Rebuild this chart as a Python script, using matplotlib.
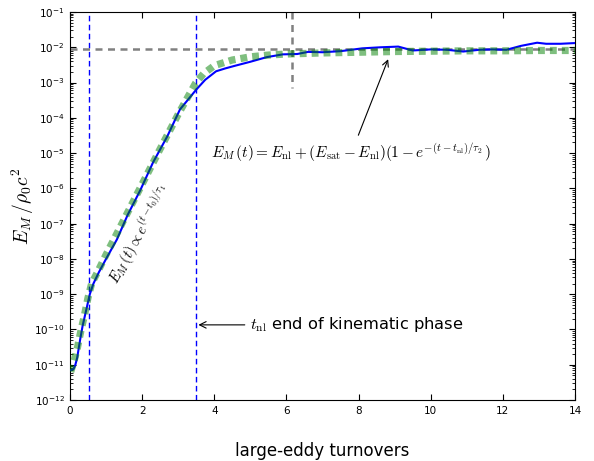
import numpy as np
import matplotlib
matplotlib.use("Agg")
from matplotlib import pyplot as plt
from matplotlib.ticker import LogLocator, NullFormatter

# simulation: magnetic energy vs time (log10 of E_M / rho0 c^2)
t_sim = [0.03, 0.1, 0.15, 0.2, 0.28, 0.35, 0.45, 0.55, 0.65, 0.8, 1.0, 1.3,
         1.6, 1.95, 2.3, 2.7, 3.05, 3.3, 3.5, 3.75, 4.05, 4.3, 4.55, 5.0,
         5.45, 5.9, 6.3, 6.6, 7.0, 7.5, 8.1, 8.6, 9.1, 9.5, 10.0, 10.45,
         10.9, 11.35, 11.7, 12.1, 12.5, 12.95, 13.2, 13.6, 14.0]
logE_sim = [-11.15, -11.12, -11.0, -10.8, -10.3, -9.9, -9.45, -9.0, -8.7,
            -8.38, -8.0, -7.45, -6.75, -6.05, -5.27, -4.52, -3.76, -3.45,
            -3.2, -2.92, -2.68, -2.6, -2.53, -2.41, -2.28, -2.2, -2.19,
            -2.13, -2.14, -2.11, -2.03, -2.0, -1.98, -2.09, -2.06, -2.07,
            -2.12, -2.07, -2.06, -2.07, -1.96, -1.87, -1.9, -1.9, -1.88]

# fit (green dotted)
t_fit = [0.02, 0.1, 0.2, 0.3, 0.4, 0.5, 0.6, 0.8, 1.0, 1.5, 2.0, 2.5, 3.0,
         3.48, 3.7, 4.0, 4.5, 5.0, 5.5, 6.0, 7.0, 8.0, 9.0, 10.0, 11.0,
         12.0, 13.0, 14.0]
logE_fit = [-11.2, -10.95, -10.55, -10.05, -9.6, -9.1, -8.7, -8.3, -7.88,
            -6.88, -5.88, -4.88, -3.9, -3.02, -2.75, -2.52, -2.36, -2.27,
            -2.22, -2.19, -2.16, -2.14, -2.12, -2.11, -2.10, -2.10, -2.09,
            -2.09]

t_start = 0.54     # end of initial transient
t_nl = 3.48        # end of kinematic phase
E_sat = 9e-3
t_sat = 6.15

E_sim = [10 ** v for v in logE_sim]
E_fit = [10 ** v for v in logE_fit]

fig = plt.figure(figsize=(5.94, 4.61), dpi=100)
ax = fig.add_axes([0.1178, 0.1323, 0.8502, 0.8416])

ax.axvline(t_start, color="b", lw=1, dashes=(4, 2.5))
ax.axvline(t_nl, color="b", lw=1, dashes=(4, 2.5))
ax.axhline(E_sat, color="0.5", lw=1.8, dashes=(2.8, 2.2))
ax.plot([t_sat, t_sat], [1e-1, 7e-4], color="0.5", lw=1.8, dashes=(2.8, 2.2))

ax.plot(t_sim, E_sim, color="b", lw=1.5, zorder=3)
ax.plot(t_fit, E_fit, color="g", alpha=0.5, lw=5.2, dashes=(0.95, 0.7),
        dash_capstyle="butt", zorder=4)

ax.set_yscale("log")
ax.set_xlim(0, 14)
ax.set_ylim(1e-12, 1e-1)
ax.set_xticks(range(0, 15, 2))
ax.set_yticks([10.0 ** k for k in range(-12, 0)])
ax.yaxis.set_minor_locator(LogLocator(base=10, subs=range(2, 10), numticks=30))
ax.yaxis.set_minor_formatter(NullFormatter())
ax.tick_params(which="both", direction="in", top=True, right=True,
               labelsize=7.5, pad=4)
ax.tick_params(which="major", length=4)
ax.tick_params(which="minor", length=2)

ax.set_xlabel("large-eddy turnovers", fontsize=12, labelpad=19)
ax.set_ylabel(r"$E_M\,/\rho_0 c^2$", fontsize=14, math_fontfamily="cm",
              labelpad=-1)

ax.text(1.95, 5e-8, r"$E_M\,(t) \propto e^{(t-t_0)/\tau_1}$", fontsize=10.5,
        rotation=61, ha="center", va="center", math_fontfamily="cm")

ax.annotate(r"$E_M\,(t) = E_{\rm nl} + (E_{\rm sat} - E_{\rm nl})"
            r"(1 - e^{-(t-t_{\rm nl})/\tau_2}\,)$",
            xy=(8.82, 4.6e-3), xytext=(7.8, 1.0e-5), fontsize=11,
            ha="center", va="center", math_fontfamily="cm",
            arrowprops=dict(arrowstyle="->", color="k", lw=0.8,
                            shrinkA=3, shrinkB=0))

ax.annotate(r"$t_{\rm nl}$ end of kinematic phase",
            xy=(3.56, 1.35e-10), xytext=(5.0, 1.35e-10), fontsize=11.7,
            ha="left", va="center", math_fontfamily="cm",
            arrowprops=dict(arrowstyle="->", color="k", lw=0.8,
                            shrinkA=2, shrinkB=0))

fig.savefig("out.png", dpi=100)
